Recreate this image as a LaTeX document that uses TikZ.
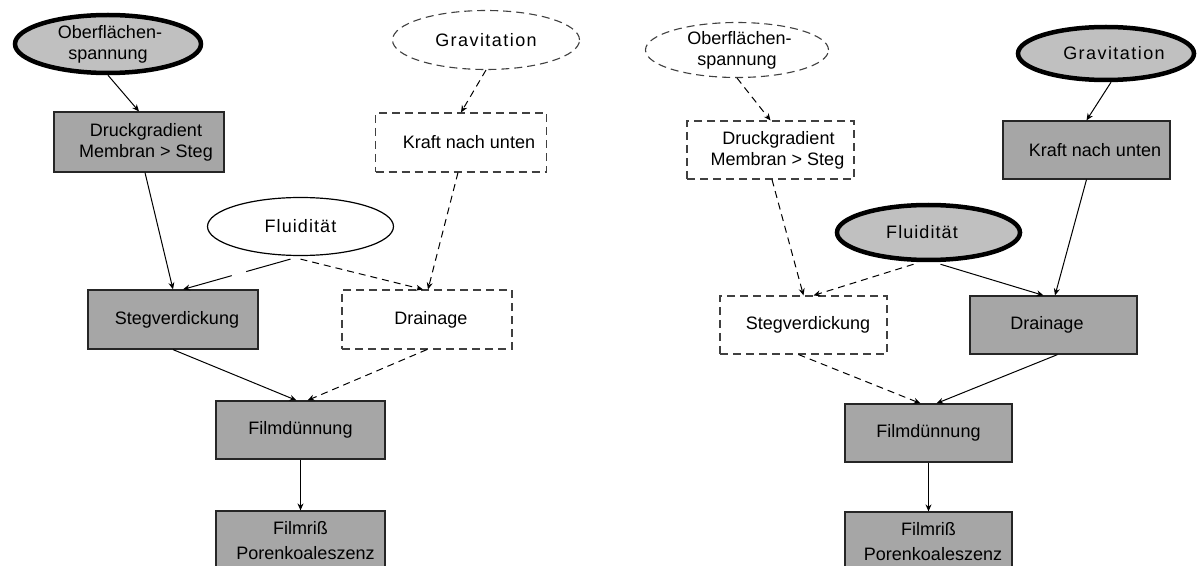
\documentclass[tikz,border=0pt]{standalone}
\usepackage{fontspec}
\setmainfont{Liberation Sans}
\usetikzlibrary{shapes.geometric,arrows.meta}
\definecolor{boxgray}{RGB}{166,166,166}
\definecolor{ellgray}{RGB}{192,192,192}
\newcommand{\sh}[1]{\rule{#1bp}{0pt}}
\newcommand{\spc}[1]{{\addfontfeature{LetterSpace=#1}}}
\tikzset{
 base/.style={font=\fontsize{18bp}{21bp}\selectfont, align=center, inner sep=0pt},
 solidbox/.style={base, rectangle, draw=black!85, line width=1.2bp, fill=boxgray},
 dashbox/.style={base, rectangle, draw=black!75, line width=1.1bp, dash pattern=on 8bp off 5bp},
 thickell/.style={base, ellipse, draw=black, line width=4.5bp, fill=ellgray},
 dashell/.style={base, ellipse, draw=black!75, line width=1.1bp, dash pattern=on 8bp off 5bp},
 thinell/.style={base, ellipse, draw=black, line width=1.2bp},
 sz/.style 2 args={minimum width=#1bp, minimum height=#2bp},
 conn/.style={line width=1bp, -{Stealth[length=7bp,width=6bp]}},
 dconn/.style={conn, dash pattern=on 7bp off 5bp},
 lconn/.style={conn, dash pattern=on 46bp off 15bp},
}
\begin{document}
\begin{tikzpicture}[x=1bp,y=-1bp]
\fill[white] (0,0) rectangle (1197,566);
\useasboundingbox (0,0) rectangle (1197,566);
\clip (0,0) rectangle (1197,566);
% left diagram
\node[thickell, sz={186}{58}] (oberL) at (108,44) {\sh{4}Oberflächen-\\spannung};
\node[solidbox, sz={170}{60}] (druckL) at (139,142) {\sh{14}Druckgradient\\\sh{14}Membran > Steg};
\node[dashell, sz={187}{59}] (gravL) at (486,40) {{\addfontfeature{LetterSpace=8}Gravitation}};
\node[dashbox, sz={171}{59}] (kraftL) at (461,142.5) {\sh{16}Kraft nach unten};
\node[thinell, sz={186}{58}] (fluidL) at (300.5,226.5) {{\addfontfeature{LetterSpace=6}Fluidität}};
\node[solidbox, sz={170}{59}] (stegL) at (173,319.5) {\sh{8}Stegverdickung};
\node[dashbox, sz={170}{59}] (drainL) at (427,319.5) {\sh{8}Drainage};
\node[solidbox, sz={169}{58}] (filmL) at (300.5,430) {Filmdünnung};
\node[solidbox, sz={169}{60}] (rissL) at (300.5,541) {Filmriß\\[4bp]\sh{10}Porenkoaleszenz};
\draw[conn] (oberL.south) -- (druckL.north);
\draw[conn] ([xshift=6bp]druckL.south) -- (stegL.north);
\draw[lconn] ([xshift=-10bp,yshift=-3bp]fluidL.south) -- ([xshift=10bp]stegL.north);
\draw[dconn] ([yshift=-3bp]fluidL.south) -- ([xshift=-4bp]drainL.north);
\draw[dconn] ([xshift=-3bp]kraftL.south) -- ([xshift=1bp]drainL.north);
\draw[dconn] (gravL.south) -- (kraftL.north);
\draw[conn] (stegL.south) -- ([xshift=-4bp]filmL.north);
\draw[dconn] (drainL.south) -- ([xshift=7bp]filmL.north);
\draw[conn] (filmL.south) -- (rissL.north);
% right diagram
\node[dashell, sz={183}{55}] (oberR) at (737,50) {\sh{5}Oberflächen-\\spannung};
\node[dashbox, sz={167}{58}] (druckR) at (770.5,150) {\sh{16}Druckgradient\\\sh{14}Membran > Steg};
\node[thickell, sz={176}{53}] (gravR) at (1106,53.5) {\sh{16}{\addfontfeature{LetterSpace=8}Gravitation}};
\node[solidbox, sz={167}{58}] (kraftR) at (1086.5,150) {\sh{17}Kraft nach unten};
\node[thickell, sz={183}{55}] (fluidR) at (928.5,232.5) {{\addfontfeature{LetterSpace=6}Fluidität}\sh{13}};
\node[dashbox, sz={167}{58}] (stegR) at (803.5,325) {\sh{9}Stegverdickung};
\node[solidbox, sz={167}{58}] (drainR) at (1053.5,325) {Drainage\sh{13}};
\node[solidbox, sz={167}{58}] (filmR) at (928.5,433) {Filmdünnung};
\node[solidbox, sz={167}{60}] (rissR) at (928.5,542) {Filmriß\\[4bp]\sh{9}Porenkoaleszenz};
\draw[dconn] (oberR.south) -- (druckR.north);
\draw[dconn] ([xshift=1.5bp]druckR.south) -- (stegR.north);
\draw[dconn] ([xshift=-15bp,yshift=-2bp]fluidR.south) -- ([xshift=10bp]stegR.north);
\draw[conn] ([xshift=12bp,yshift=-2bp]fluidR.south) -- ([xshift=-10bp]drainR.north);
\draw[conn] (kraftR.south) -- ([xshift=1.5bp]drainR.north);
\draw[conn] ([xshift=5bp]gravR.south) -- (kraftR.north);
\draw[dconn] ([xshift=-5bp]stegR.south) -- ([xshift=-8bp]filmR.north);
\draw[conn] ([xshift=4bp]drainR.south) -- ([xshift=8bp]filmR.north);
\draw[conn] (filmR.south) -- (rissR.north);
\end{tikzpicture}
\end{document}
